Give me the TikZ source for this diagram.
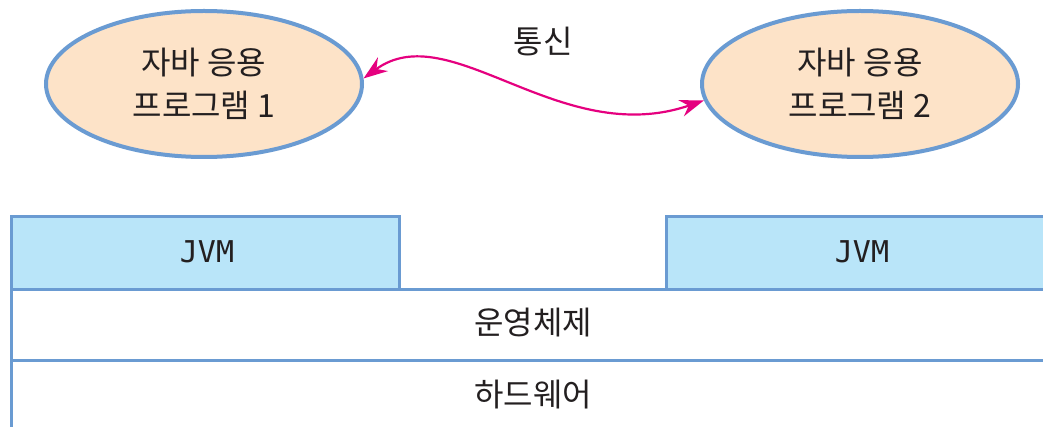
\documentclass[tikz,border=0pt]{standalone}
\usepackage{fontspec}
\newfontfamily\kr{Noto Sans CJK KR}
\newfontfamily\jvmfont{DejaVu Sans Mono}
\usetikzlibrary{shapes.geometric,arrows.meta}
\definecolor{edgeblue}{HTML}{6A9BD2}
\definecolor{peach}{HTML}{FDE3C8}
\definecolor{skyfill}{HTML}{B9E5F9}
\definecolor{arrowpink}{HTML}{E5007F}
\definecolor{txt}{HTML}{231F20}
\tikzset{
  app/.style={ellipse, draw=edgeblue, fill=peach, line width=4pt,
    minimum width=316pt, minimum height=146pt, inner sep=0pt,
    align=center, text=txt, font=\kr\fontsize{32}{43}\selectfont},
  layer/.style={rectangle, draw=edgeblue, line width=3pt, anchor=north west,
    inner sep=0pt, text=txt},
  jvmbox/.style={layer, fill=skyfill},
  oslayer/.style={layer, fill=white},
  tip/.style={Stealth[length=24pt,width=17pt,inset=8pt]},
  comm/.style={draw=arrowpink, line width=2.2pt, {Stealth[length=24pt,width=17pt,inset=8pt]}-{Stealth[length=24pt,width=17pt,inset=8pt]}},
  lbl/.style={text=txt, font=\kr\fontsize{32}{36}\selectfont},
  jvmlbl/.style={text=txt, font=\jvmfont\fontsize{30}{32}\selectfont}
}
\begin{document}
\begin{tikzpicture}[x=1pt,y=-1pt]
\useasboundingbox (0,0) rectangle (1043,427);
\clip (0,0) rectangle (1043,427);
\fill[white] (0,0) rectangle (1043,427);
% layers
\node[oslayer, minimum width=1060pt, minimum height=90pt] (hw) at (10,359) {};
\node[oslayer, minimum width=1060pt, minimum height=71pt] (os) at (10,288) {};
\node[jvmbox, minimum width=388pt, minimum height=73pt] (jvm1) at (10,215) {};
\node[jvmbox, minimum width=400pt, minimum height=73pt] (jvm2) at (665,215) {};
\node[lbl] (oslbl) at (533,323) {운영체제};
\node[lbl] (hwlbl) at (533,395) {하드웨어};
\node[jvmlbl] (jvm1lbl) at (207,252) {JVM};
\node[jvmlbl] (jvm2lbl) at (862,252) {JVM};
% apps
\node[app] (e1) at (204,84) {자바 응용\\프로그램 1};
\node[app] (e2) at (860,84) {자바 응용\\프로그램 2};
% communication
\draw[comm] (e1.2) .. controls (450,15) and (560,150) .. (e2.186);
\node[lbl] (tong) at (543,42) {통신};
\end{tikzpicture}
\end{document}
